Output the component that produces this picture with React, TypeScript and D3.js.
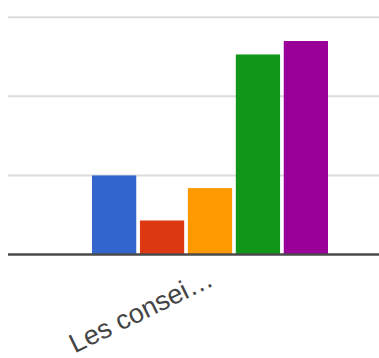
import React from "react";
import * as d3 from "d3";

const categories = ["Les consei\u2026"];
const seriesNames = ["A", "B", "C", "D", "E"];
const seriesValues = [1.0, 0.43, 0.84, 2.53, 2.7];
const seriesColors = ["#3366cc", "#dc3912", "#ff9900", "#109618", "#990099"];
const yTicks = [0, 1, 2, 3];

const W = 379;
const H = 358;

export default function App() {
  const x0 = d3
    .scaleBand<string>()
    .domain(categories)
    .range([8, 412])
    .paddingInner(0)
    .paddingOuter(0.356);
  const x1 = d3
    .scaleBand<string>()
    .domain(seriesNames)
    .range([0, x0.bandwidth()])
    .paddingInner(0.077)
    .paddingOuter(0);
  const y = d3.scaleLinear().domain([0, 3]).range([254.5, 17.3]);

  return (
    <div style={{ position: "fixed", left: 0, top: 0, width: W, height: H, background: "#fff" }}>
      <svg width={W} height={H} style={{ display: "block" }}>
        <rect width={W} height={H} fill="#fff" />
        {yTicks
          .filter((t) => t !== 0)
          .map((t) => (
            <line key={t} x1={8} x2={W} y1={y(t)} y2={y(t)} stroke="#dcdcdc" strokeWidth={2} />
          ))}
        {categories.map((c) => (
          <g key={c} transform={`translate(${x0(c)},0)`}>
            {seriesNames.map((s, i) => (
              <rect
                key={s}
                x={x1(s)}
                y={y(seriesValues[i])}
                width={x1.bandwidth()}
                height={y(0) - y(seriesValues[i])}
                fill={seriesColors[i]}
              />
            ))}
          </g>
        ))}
        <line x1={8} x2={W} y1={y(0)} y2={y(0)} stroke="#4a4a4a" strokeWidth={2.5} />
        {categories.map((c) => {
          const cx = (x0(c) ?? 0) + x0.bandwidth() / 2 + 5;
          return (
            <text
              key={c}
              transform={`translate(${cx},285) rotate(-26)`}
              textAnchor="end"
              fontFamily="Liberation Sans, Arial, sans-serif"
              fontSize={27}
              fill="#444"
            >
              {c}
            </text>
          );
        })}
      </svg>
    </div>
  );
}
